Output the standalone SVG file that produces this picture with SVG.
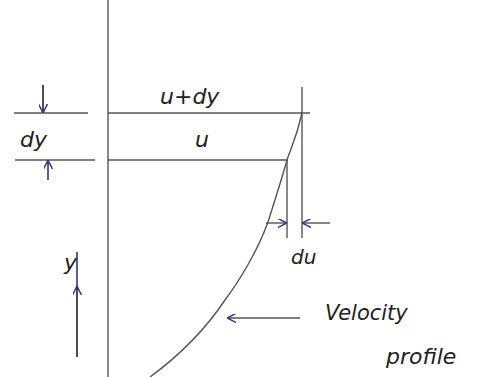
<svg xmlns="http://www.w3.org/2000/svg" width="499" height="377" viewBox="0 0 499 377">
<style>
.ln{stroke:#555;stroke-width:1.4;fill:none}
.dk{stroke:#222;stroke-width:1.6;fill:none}
.bl{stroke:#33337a;stroke-width:1.6;fill:none}
.t{font-family:"DejaVu Sans",sans-serif;fill:#222;font-style:italic}
</style>
<defs>
<marker id="ah" viewBox="0 0 10 10" refX="9" refY="5" markerWidth="9" markerHeight="9" orient="auto-start-reverse" markerUnits="userSpaceOnUse">
<path d="M0,0 L10,5 L0,10" fill="none" stroke="#33337a" stroke-width="1.6"/>
</marker>
</defs>
<rect width="499" height="377" fill="#fff"/>
<g id="axes">
<line class="ln" x1="108" y1="0" x2="108" y2="377"/>
<line class="ln" x1="302" y1="87" x2="302" y2="238"/>
<line class="ln" x1="287" y1="160" x2="287" y2="238"/>
<line class="ln" x1="14" y1="113" x2="88" y2="113"/>
<line class="ln" x1="108" y1="113" x2="310" y2="113"/>
<line class="ln" x1="15" y1="160" x2="95" y2="160"/>
<line class="ln" x1="108" y1="160" x2="288" y2="160"/>
</g>
<g id="profile">
<path class="ln" d="M302,113 C296,140 290,150 287,160 C282,178 275,200 268,222 C258,250 240,280 225,300 C205,330 180,355 150,377"/>
</g>
<g id="connectors">
<line class="dk" x1="43" y1="85" x2="43" y2="112" marker-end="url(#ah)"/>
<line class="bl" x1="48" y1="180" x2="48" y2="161" marker-end="url(#ah)"/>
<line class="dk" x1="77" y1="357" x2="77" y2="287" marker-end="url(#ah)"/>
<line class="bl" x1="77" y1="290" x2="77" y2="252"/>
<line class="ln" x1="266" y1="223" x2="286" y2="223" marker-end="url(#ah)"/>
<line class="ln" x1="330" y1="223" x2="303" y2="223" marker-end="url(#ah)"/>
<line class="ln" x1="300" y1="318" x2="228" y2="318" marker-end="url(#ah)"/>
</g>
<g id="labels">
<text class="t" x="160" y="104" font-size="22">u+dy</text>
<text class="t" x="195" y="147" font-size="22">u</text>
<text class="t" x="20" y="147" font-size="22">dy</text>
<text class="t" x="64" y="270" font-size="22">y</text>
<text class="t" x="291" y="264" font-size="20">du</text>
<text class="t" x="325" y="320" font-size="21">Velocity</text>
<text class="t" x="386" y="364" font-size="22">profile</text>
</g>
</svg>
